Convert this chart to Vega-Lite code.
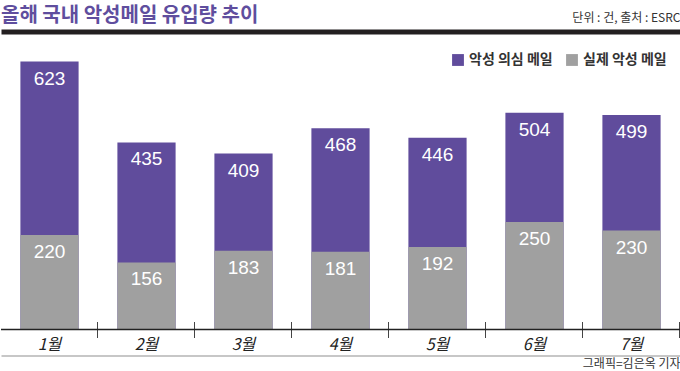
{
  "$schema": "https://vega.github.io/schema/vega-lite/v6.json",
  "width": 679,
  "height": 298,
  "autosize": {"type": "none"},
  "padding": {"left": 1, "top": 31.5, "right": 0, "bottom": 41.5},
  "background": "white",
  "title": {
    "text": "올해 국내 악성메일 유입량 추이",
    "anchor": "start",
    "frame": "group",
    "font": "Noto Sans CJK KR",
    "fontSize": 20,
    "fontWeight": "bold",
    "color": "#5f4e9e",
    "offset": 0,
    "dy": 14
  },
  "data": {
    "values": [
      {"month": "1월", "type": "악성 의심 메일", "value": 623},
      {"month": "2월", "type": "악성 의심 메일", "value": 435},
      {"month": "3월", "type": "악성 의심 메일", "value": 409},
      {"month": "4월", "type": "악성 의심 메일", "value": 468},
      {"month": "5월", "type": "악성 의심 메일", "value": 446},
      {"month": "6월", "type": "악성 의심 메일", "value": 504},
      {"month": "7월", "type": "악성 의심 메일", "value": 499},
      {"month": "1월", "type": "실제 악성 메일", "value": 220},
      {"month": "2월", "type": "실제 악성 메일", "value": 156},
      {"month": "3월", "type": "실제 악성 메일", "value": 183},
      {"month": "4월", "type": "실제 악성 메일", "value": 181},
      {"month": "5월", "type": "실제 악성 메일", "value": 192},
      {"month": "6월", "type": "실제 악성 메일", "value": 250},
      {"month": "7월", "type": "실제 악성 메일", "value": 230}
    ]
  },
  "encoding": {
    "y": {
      "field": "value",
      "type": "quantitative",
      "stack": null,
      "scale": {"domain": [0, 693], "nice": false},
      "axis": null
    }
  },
  "layer": [
    {
      "mark": {"type": "bar"},
      "encoding": {
        "x": {
          "field": "month",
          "type": "nominal",
          "sort": null,
          "scale": {"paddingInner": 0.4, "paddingOuter": 0.2},
          "axis": {
            "orient": "bottom",
            "title": null,
            "offset": -8,
            "domain": false,
            "ticks": true,
            "bandPosition": 1.3333,
            "tickColor": "#444444",
            "tickSize": 16,
            "tickWidth": 1,
            "labelFont": "Noto Sans CJK KR",
            "labelFontSize": 16,
            "labelFontStyle": "italic",
            "labelColor": "#222222",
            "labelPadding": -1,
            "labelAngle": 0,
            "grid": false
          }
        },
        "color": {
          "field": "type",
          "type": "nominal",
          "scale": {
            "domain": ["악성 의심 메일", "실제 악성 메일"],
            "range": ["#604c9c", "#a0a0a0"]
          },
          "legend": {
            "orient": "none",
            "legendX": 450,
            "legendY": 21.5,
            "direction": "horizontal",
            "title": null,
            "symbolType": "square",
            "symbolSize": 140,
            "symbolStrokeWidth": 0,
            "symbolOpacity": 1,
            "labelFont": "Noto Sans CJK KR",
            "labelFontSize": 14,
            "labelFontWeight": "bold",
            "labelColor": "#333333",
            "columnPadding": 12,
            "labelOffset": 4
          }
        }
      }
    },
    {
      "data": {"values": [{"base": 0}]},
      "mark": {"type": "rule", "color": "#222222", "strokeWidth": 1.5},
      "encoding": {
        "y": {"field": "base", "type": "quantitative"}
      }
    },
    {
      "transform": [{"filter": "datum.type === '악성 의심 메일'"}],
      "mark": {"type": "text", "color": "white", "font": "Liberation Sans", "fontSize": 19, "baseline": "middle", "align": "center", "dy": 17},
      "encoding": {
        "x": {
          "field": "month",
          "type": "nominal",
          "sort": null,
          "scale": {"paddingInner": 0.4, "paddingOuter": 0.2},
          "axis": {
            "orient": "bottom",
            "offset": 26,
            "labels": false,
            "ticks": false,
            "domain": true,
            "domainColor": "#b5b5b5",
            "domainWidth": 1.5,
            "grid": false,
            "title": "그래픽=김은옥 기자",
            "titleAnchor": "end",
            "titleFont": "Noto Sans CJK KR",
            "titleFontSize": 12,
            "titleFontWeight": "normal",
            "titleColor": "#333333",
            "titlePadding": 3
          }
        },
        "text": {"field": "value", "type": "quantitative"}
      }
    },
    {
      "transform": [{"filter": "datum.type === '실제 악성 메일'"}],
      "mark": {"type": "text", "color": "white", "font": "Liberation Sans", "fontSize": 19, "baseline": "middle", "align": "center", "dy": 17},
      "encoding": {
        "x": {
          "field": "month",
          "type": "nominal",
          "sort": null,
          "scale": {"paddingInner": 0.4, "paddingOuter": 0.2},
          "axis": {
            "orient": "top",
            "labels": false,
            "ticks": false,
            "domain": true,
            "domainColor": "#231f20",
            "domainWidth": 5,
            "grid": false,
            "title": "단위 : 건, 출처 : ESRC",
            "titleAnchor": "end",
            "titleFont": "Noto Sans CJK KR",
            "titleFontSize": 12,
            "titleFontWeight": "normal",
            "titleColor": "#333333",
            "titlePadding": 7
          }
        },
        "text": {"field": "value", "type": "quantitative"}
      }
    }
  ],
  "resolve": {"axis": {"x": "independent"}},
  "config": {"view": {"stroke": null}, "font": "Noto Sans CJK KR"}
}
